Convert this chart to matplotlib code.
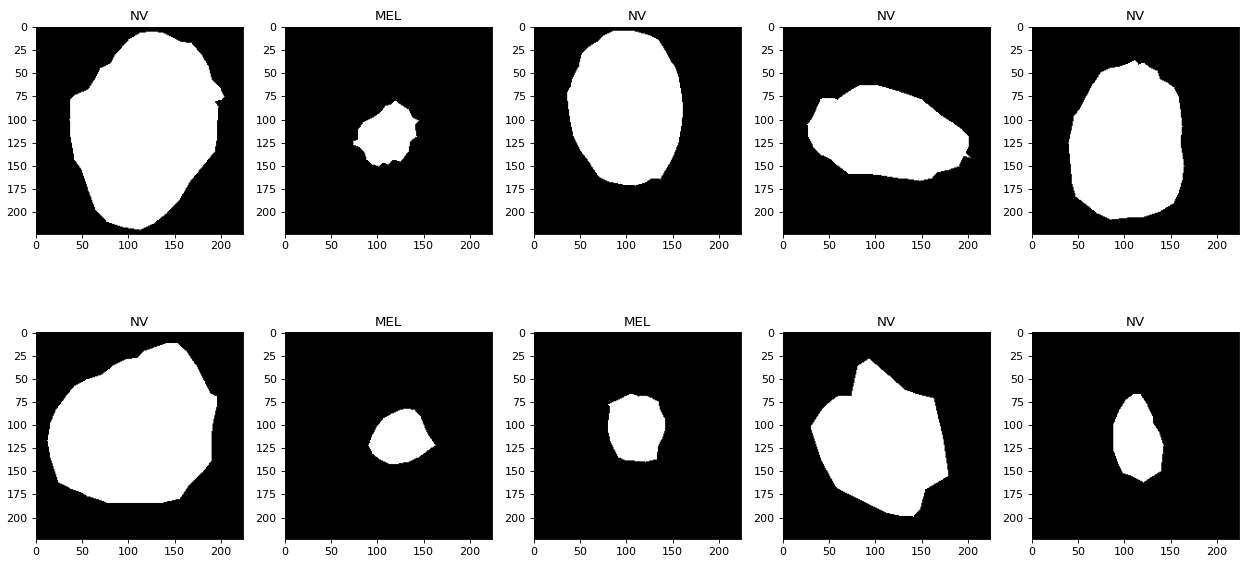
import numpy as np
import matplotlib
matplotlib.use('Agg')
import matplotlib.pyplot as plt
from matplotlib.path import Path

SIZE = 224

titles = ['NV', 'MEL', 'NV', 'NV', 'NV',
          'NV', 'MEL', 'MEL', 'NV', 'NV']

# lesion outlines as (x, y) pixel coordinates, y measured downwards
outline_0 = [(125, 4), (137, 6), (155, 15), (168, 17), (179, 30), (186, 42),
             (190, 57), (199, 66), (203, 75), (200, 78), (193, 80), (197, 86),
             (196, 100), (195, 122), (193, 134), (180, 150), (166, 167),
             (155, 186), (141, 201), (127, 212), (112, 219), (94, 216),
             (76, 210), (64, 197), (56, 176), (49, 154), (41, 143), (37, 118),
             (36, 100), (37, 78), (42, 73), (56, 67), (64, 55), (69, 44),
             (80, 39), (85, 30), (100, 13), (112, 6)]
outline_1 = [(119, 79), (124, 83), (133, 89), (138, 98), (144, 101),
             (140, 105), (142, 118), (135, 123), (133, 134), (128, 141),
             (124, 145), (117, 143), (111, 148), (106, 146), (101, 150),
             (94, 148), (88, 143), (86, 136), (81, 130), (74, 127), (74, 123),
             (79, 121), (79, 110), (84, 103), (94, 98), (103, 92), (108, 85),
             (115, 83)]
outline_2 = [(96, 3), (84, 4), (73, 10), (68, 15), (57, 22), (51, 29),
             (48, 42), (41, 55), (39, 64), (35, 71), (37, 89), (39, 103),
             (42, 118), (49, 132), (60, 147), (69, 161), (80, 167), (95, 170),
             (109, 171), (120, 168), (127, 163), (136, 164), (141, 156),
             (150, 140), (156, 125), (159, 107), (161, 89), (159, 71),
             (156, 53), (152, 42), (148, 37), (141, 24), (134, 13), (123, 8),
             (109, 4)]
outline_3 = [(84, 62), (99, 62), (110, 65), (124, 69), (138, 74), (149, 78),
             (160, 87), (171, 96), (182, 103), (192, 110), (199, 118),
             (199, 129), (196, 136), (201, 141), (194, 139), (189, 150),
             (178, 154), (165, 157), (160, 163), (147, 166), (135, 164),
             (124, 163), (106, 160), (88, 158), (70, 158), (58, 149),
             (50, 142), (41, 138), (32, 129), (27, 118), (26, 105), (31, 98),
             (36, 87), (40, 78), (43, 76), (52, 76), (58, 78), (65, 73),
             (74, 67)]
outline_4 = [(111, 35), (115, 40), (120, 38), (128, 44), (135, 47), (138, 56),
             (146, 60), (153, 65), (158, 75), (160, 89), (162, 107),
             (160, 125), (162, 136), (164, 150), (162, 165), (158, 179),
             (153, 190), (138, 199), (120, 205), (102, 206), (85, 208),
             (70, 201), (56, 190), (47, 183), (43, 169), (41, 147), (39, 125),
             (43, 107), (45, 96), (52, 87), (58, 75), (65, 62), (74, 49),
             (84, 44), (95, 42), (104, 39)]
outline_5 = [(143, 11), (153, 12), (162, 20), (173, 36), (182, 53), (188, 66),
             (195, 69), (195, 80), (191, 98), (189, 115), (189, 139),
             (180, 151), (166, 164), (155, 180), (137, 184), (80, 184),
             (76, 184), (65, 180), (55, 177), (49, 173), (37, 169), (24, 162),
             (15, 135), (12, 117), (15, 98), (21, 84), (32, 69), (41, 58),
             (54, 51), (70, 46), (83, 36), (97, 29), (110, 27), (117, 20),
             (128, 16)]
outline_6 = [(131, 82), (140, 84), (146, 91), (153, 108), (162, 122),
             (151, 130), (144, 135), (133, 140), (122, 142), (112, 142),
             (102, 137), (94, 131), (90, 122), (94, 111), (99, 102), (106, 93),
             (115, 88), (124, 84)]
outline_7 = [(105, 66), (113, 69), (120, 68), (127, 71), (134, 75), (136, 84),
             (141, 93), (141, 106), (138, 115), (134, 122), (132, 137),
             (120, 140), (109, 139), (98, 138), (91, 135), (86, 126),
             (82, 117), (80, 108), (80, 95), (82, 80), (80, 78), (86, 75),
             (91, 73), (98, 69)]
outline_8 = [(92, 28), (80, 36), (73, 68), (58, 69), (44, 80), (29, 102),
             (41, 139), (57, 168), (74, 177), (110, 195), (124, 198),
             (140, 199), (147, 192), (153, 170), (178, 155), (172, 115),
             (162, 71), (142, 66), (131, 62), (113, 46)]
outline_9 = [(110, 66), (117, 67), (124, 78), (130, 91), (131, 99), (137, 108),
             (142, 122), (139, 150), (120, 162), (107, 155), (98, 152),
             (93, 142), (88, 128), (88, 99), (94, 84), (101, 73)]

outlines = [outline_0, outline_1, outline_2, outline_3, outline_4,
            outline_5, outline_6, outline_7, outline_8, outline_9]


def make_mask(outline):
    yy, xx = np.mgrid[0:SIZE, 0:SIZE]
    pts = np.column_stack([xx.ravel(), yy.ravel()])
    inside = Path(outline).contains_points(pts)
    return inside.reshape(SIZE, SIZE).astype(float)


fig = plt.figure(figsize=(1245 / 80, 571 / 80), dpi=80)

w = 207 / 1245
h = 207 / 571
bottoms = [1 - 233.7 / 571, 1 - 539.3 / 571]

for i, (title, outline) in enumerate(zip(titles, outlines)):
    row, col = divmod(i, 5)
    left = (35.5 + 249 * col) / 1245
    ax = fig.add_axes([left, bottoms[row], w, h])
    ax.imshow(make_mask(outline), cmap='gray', vmin=0, vmax=1)
    ax.set_title(title)
    ax.set_xticks([0, 50, 100, 150, 200])
    ax.set_yticks([0, 25, 50, 75, 100, 125, 150, 175, 200])

fig.savefig('out.png', dpi=80)
